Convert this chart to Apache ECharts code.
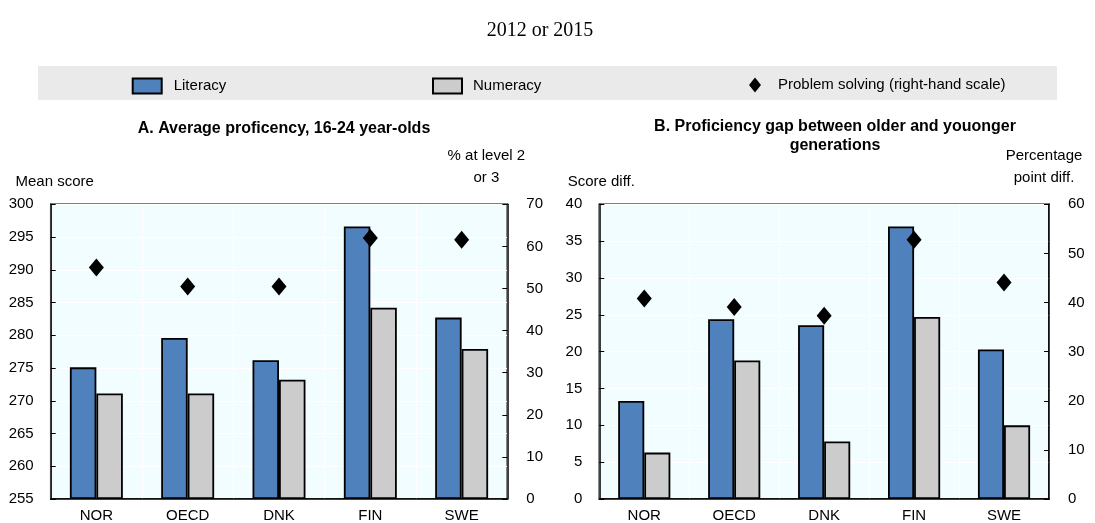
<!DOCTYPE html>
<html>
<head>
<meta charset="utf-8">
<script src="https://cdn.jsdelivr.net/npm/echarts@6/dist/echarts.min.js"></script>
<style>
  html, body { margin: 0; padding: 0; background: #fff; }
  #chart { width: 1095px; height: 523px; }
</style>
</head>
<body>
<div id="chart"></div>
<script>
const countries = ['NOR', 'OECD', 'DNK', 'FIN', 'SWE']

// Panel A: average proficiency, 16-24 year-olds
const litA = [275.1, 279.6, 276.2, 296.6, 282.7]
const numA = [271.1, 271.1, 273.2, 284.2, 277.9]
const psA = [55.0, 50.5, 50.5, 62.0, 61.6]

// Panel B: gap between older and younger generations
const litB = [13.3, 24.4, 23.6, 37.0, 20.3]
const numB = [6.3, 18.8, 7.8, 24.7, 10.0]
const psB = [40.8, 39.1, 37.3, 52.8, 44.1]

const font = "'Liberation Sans', Arial, sans-serif"
const txt = { fontFamily: font, fontSize: 15, color: '#000' }
const plotBg = '#F2FDFF'
const litColor = '#4F81BD'
const numColor = '#CCCCCC'

var chartDom = document.getElementById('chart')
var myChart = echarts.init(chartDom)

function xAxisFor(gridIndex) {
  return {
    type: 'category',
    gridIndex: gridIndex,
    data: countries,
    axisLine: { lineStyle: { color: '#000', width: 1.5 } },
    axisTick: { inside: true, length: 5, lineStyle: { color: '#000' } },
    axisLabel: Object.assign({ margin: 9 }, txt),
    splitLine: { show: true, lineStyle: { color: '#fff', width: 1 } }
  }
}

function leftAxis(gridIndex, min, max, interval, name, pad) {
  return {
    type: 'value', gridIndex: gridIndex, position: 'left',
    min: min, max: max, interval: interval, startValue: min,
    name: name, nameGap: 15,
    nameTextStyle: Object.assign({ padding: pad }, txt),
    axisLine: { show: true, lineStyle: { color: '#000', width: 1.5 } },
    axisTick: { show: true, inside: true, length: 5, lineStyle: { color: '#000' } },
    axisLabel: Object.assign({ margin: 17 }, txt),
    splitLine: { show: true, lineStyle: { color: '#fff', width: 1 } }
  }
}

function rightAxis(gridIndex, max, name, pad) {
  return {
    type: 'value', gridIndex: gridIndex, position: 'right',
    min: 0, max: max, interval: 10,
    name: name, nameGap: 15,
    nameTextStyle: Object.assign({ padding: pad, lineHeight: 22 }, txt),
    axisLine: { show: true, lineStyle: { color: '#000', width: 1.5 } },
    axisTick: { show: true, inside: true, length: 5, lineStyle: { color: '#000' } },
    axisLabel: Object.assign({ margin: 19 }, txt),
    splitLine: { show: false }
  }
}

function barSeries(name, data, color, axisIdx) {
  return {
    name: name, type: 'bar', data: data,
    xAxisIndex: axisIdx, yAxisIndex: axisIdx * 2,
    barWidth: '29%', barGap: '0%', clip: true,
    itemStyle: { color: color, borderColor: '#000', borderWidth: 1.8 }
  }
}

function psSeries(data, axisIdx) {
  return {
    name: 'Problem solving (right-hand scale)', type: 'scatter', data: data,
    xAxisIndex: axisIdx, yAxisIndex: axisIdx * 2 + 1,
    symbol: 'diamond', symbolSize: [15, 18], z: 5,
    itemStyle: { color: '#000', opacity: 1 }
  }
}

function legendFor(name, left, w, h, pad, icon) {
  return {
    data: [{ name: name, icon: icon }], left: left, top: 85 - h / 2, padding: 0,
    itemWidth: w, itemHeight: h, selectedMode: false,
    textStyle: Object.assign({ padding: [0, 0, 0, pad] }, txt)
  }
}

const option = {
  animation: false,
  backgroundColor: '#fff',
  title: [
    {
      text: '2012 or 2015', left: 535, top: 16, textAlign: 'center',
      textStyle: { fontFamily: "'Liberation Serif', 'Times New Roman', serif", fontSize: 20, fontWeight: 'normal', color: '#000' }
    },
    {
      text: 'A. Average proficency, 16-24 year-olds', left: 279, top: 116, textAlign: 'center',
      textStyle: { fontFamily: font, fontSize: 16, fontWeight: 'bold', color: '#000' }
    },
    {
      text: 'B. Proficiency gap between older and youonger\ngenerations', left: 830, top: 112, textAlign: 'center',
      textStyle: { fontFamily: font, fontSize: 16, fontWeight: 'bold', color: '#000', lineHeight: 19 }
    }
  ],
  graphic: [
    { type: 'rect', shape: { x: 38, y: 66, width: 1019, height: 34 }, style: { fill: '#EAEAEA' }, z: -10, silent: true }
  ],
  legend: [
    legendFor('Literacy', 131.7, 29, 15, 7, 'rect'),
    legendFor('Numeracy', 432, 29, 15, 6, 'rect'),
    legendFor('Problem solving (right-hand scale)', 749, 12, 15, 12, 'diamond')
  ],
  grid: [
    { left: 50.7, right: 587.7, top: 204.3, bottom: 23, show: true, backgroundColor: plotBg, borderColor: '#000', borderWidth: 1.5 },
    { left: 599.3, right: 46, top: 204.3, bottom: 23, show: true, backgroundColor: plotBg, borderColor: '#000', borderWidth: 1.5 }
  ],
  xAxis: [xAxisFor(0), xAxisFor(1)],
  yAxis: [
    leftAxis(0, 255, 300, 5, 'Mean score', [0, 0, 0, 8]),
    rightAxis(0, 70, '% at level 2\nor 3', [0, 42, 0, 0]),
    leftAxis(1, 0, 40, 5, 'Score diff.', [0, 0, 0, 4]),
    rightAxis(1, 60, 'Percentage\npoint diff.', [0, 10, 0, 0])
  ],
  series: [
    barSeries('Literacy', litA, litColor, 0),
    barSeries('Numeracy', numA, numColor, 0),
    psSeries(psA, 0),
    barSeries('Literacy', litB, litColor, 1),
    barSeries('Numeracy', numB, numColor, 1),
    psSeries(psB, 1)
  ]
}
option && myChart.setOption(option)
</script>
</body>
</html>
